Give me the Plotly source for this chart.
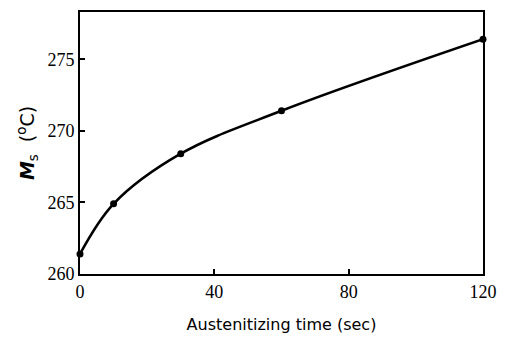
import plotly.graph_objects as go

time_sec = [0, 10, 30, 60, 120]
ms_temp = [261.4, 264.9, 268.4, 271.4, 276.4]
x_ticks = [0, 40, 80, 120]
y_ticks = [260, 265, 270, 275]

fig = go.Figure()
fig.add_trace(go.Scatter(
    x=time_sec, y=ms_temp, mode="lines+markers",
    line=dict(color="black", width=2.6, shape="spline", smoothing=1.0),
    marker=dict(color="black", size=7, symbol="circle"),
    showlegend=False, cliponaxis=False,
))

axis_common = dict(
    showline=True, linecolor="black", linewidth=2, mirror=True,
    ticks="inside", ticklen=5, tickwidth=1.5, tickcolor="black",
    showgrid=False, zeroline=False, automargin=False,
    tickfont=dict(family="Liberation Serif", size=18, color="black"),
)

fig.update_layout(
    width=507, height=338,
    margin=dict(l=80, r=24, t=12, b=64),
    paper_bgcolor="white", plot_bgcolor="white",
    xaxis=dict(range=[0, 120], tickvals=x_ticks, ticktext=[str(v) for v in x_ticks],
               title=dict(text="Austenitizing time (sec)", standoff=18,
                          font=dict(family="DejaVu Sans", size=16, color="black")),
               **axis_common),
    yaxis=dict(range=[260, 278.3], tickvals=y_ticks, ticktext=[str(v) for v in y_ticks],
               title=dict(text="<b><i>M</i></b><sub>s</sub>  (<sup>o</sup>C)", standoff=8,
                          font=dict(family="DejaVu Sans", size=19, color="black")),
               **axis_common),
)

fig.write_html("out.html")
